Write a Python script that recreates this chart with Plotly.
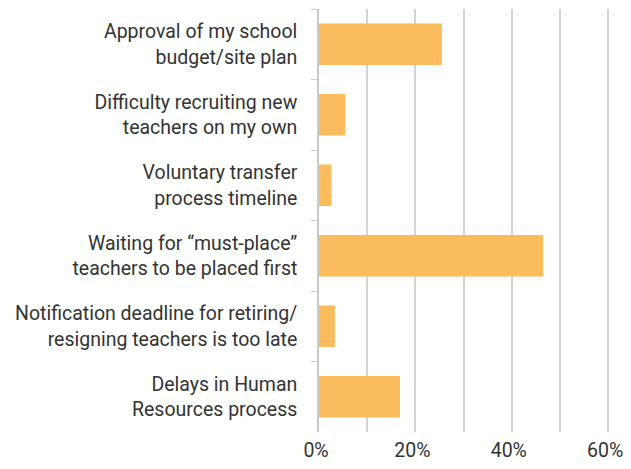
import plotly.graph_objects as go

categories = [
    "Approval of my school<br>budget/site plan",
    "Difficulty recruiting new<br>teachers on my own",
    "Voluntary transfer<br>process timeline",
    "Waiting for “must-place”<br>teachers to be placed first",
    "Notification deadline for retiring/<br>resigning teachers is too late",
    "Delays in Human<br>Resources process",
]
values = [25.5, 5.5, 2.6, 46.5, 3.3, 16.8]
tick_vals = [0, 20, 40, 60]
tick_text = ["0%", "20%", "40%", "60%"]

bar_color = "#FBBC5E"
text_color = "#333333"
font_family = "Roboto, sans-serif"

fig = go.Figure(
    go.Bar(
        x=values,
        y=categories,
        orientation="h",
        marker=dict(color=bar_color, line=dict(width=0)),
        width=0.59,
    )
)

# page body adds an 8px margin, so the figure is sized to fit the window
fig.update_layout(
    width=615,
    height=453,
    margin=dict(l=311, r=10, t=1, b=29),
    paper_bgcolor="white",
    plot_bgcolor="white",
    font=dict(family=font_family, size=20, color=text_color),
    showlegend=False,
    bargap=0.41,
)

fig.update_xaxes(
    range=[0, 61],
    tickvals=tick_vals,
    ticktext=tick_text,
    showgrid=True,
    gridcolor="#d4d4d4",
    gridwidth=1.5,
    minor=dict(tickvals=[10, 30, 50], showgrid=True, gridcolor="#d4d4d4", gridwidth=1.5),
    zeroline=False,
    showline=False,
    ticks="",
    tickfont=dict(size=19.5, color=text_color),
    ticklabelshift=-3,
    ticklabelstandoff=4,
    ticklabeloverflow="allow",
    automargin=False,
    fixedrange=True,
)

fig.update_yaxes(
    autorange="reversed",
    tickson="boundaries",
    ticks="outside",
    ticklen=6,
    tickcolor="#c8c8c8",
    showline=True,
    linecolor="#c8c8c8",
    linewidth=1.5,
    showgrid=False,
    zeroline=False,
    tickfont=dict(size=19.5, color=text_color),
    ticklabelstandoff=16,
    automargin=False,
    fixedrange=True,
)

fig.write_html("out.html")
